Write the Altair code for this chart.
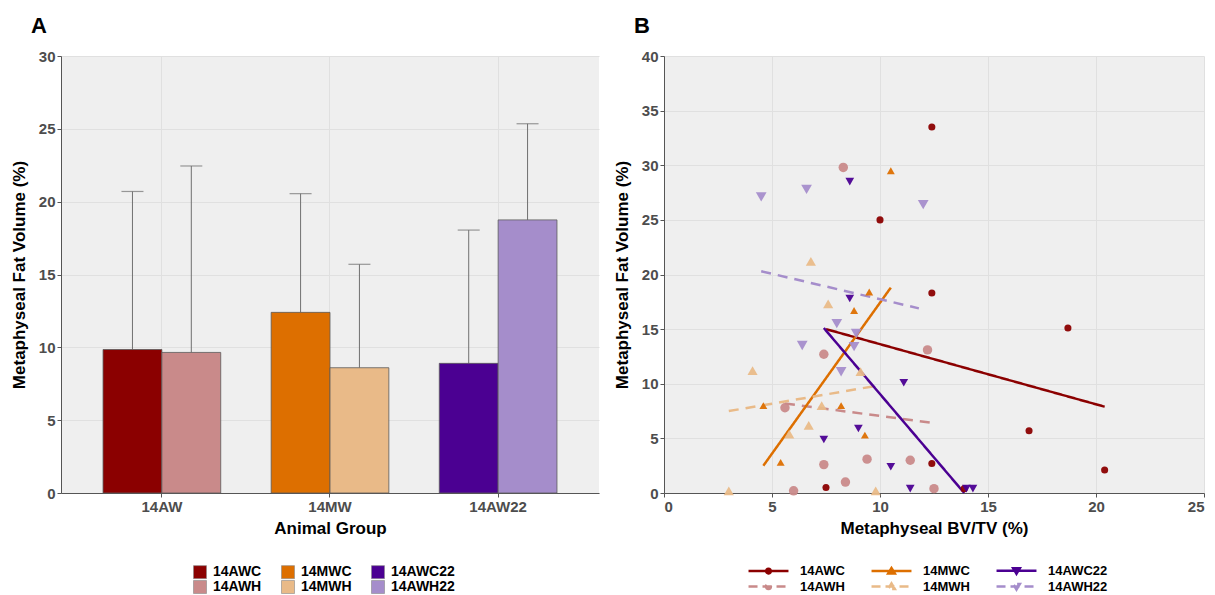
import altair as alt
import pandas as pd

# ---------------- Panel A data ----------------
group_a = ["14AW", "14AW", "14MW", "14MW", "14AW22", "14AW22"]
series_a = ["14AWC", "14AWH", "14MWC", "14MWH", "14AWC22", "14AWH22"]
cond_a = ["C", "H", "C", "H", "C", "H"]
mean_a = [9.85, 9.65, 12.4, 8.6, 8.9, 18.75]
upper_a = [20.7, 22.45, 20.55, 15.7, 18.05, 25.35]
group_order = ["14AW", "14MW", "14AW22"]

legend_order = ["14AWC", "14MWC", "14AWC22", "14AWH", "14MWH", "14AWH22"]
color_range = ["#8B0000", "#DD6F00", "#4B0092", "#C98A8A", "#E9BA88", "#A58DCB"]

# ---------------- Panel B data ----------------
awc_x = [12.4, 10.0, 12.4, 18.7, 16.9, 20.4, 12.4, 7.5, 13.9]
awc_y = [33.5, 25.0, 18.3, 15.1, 5.7, 2.1, 2.7, 0.5, 0.4]
awh_x = [8.3, 7.4, 12.2, 5.6, 7.4, 9.4, 11.4, 8.4, 6.0, 12.5]
awh_y = [29.8, 12.7, 13.1, 7.8, 2.6, 3.1, 3.0, 1.0, 0.2, 0.4]
mwc_x = [10.5, 9.5, 8.8, 4.6, 8.2, 9.3, 5.4]
mwc_y = [29.5, 18.4, 16.7, 8.0, 8.0, 5.3, 2.8]
mwh_x = [6.8, 7.6, 4.1, 9.1, 7.3, 6.7, 5.8, 3.0, 9.8]
mwh_y = [21.2, 17.3, 11.2, 11.1, 8.0, 6.2, 5.4, 0.2, 0.2]
awc22_x = [8.6, 8.6, 11.1, 7.4, 9.0, 10.5, 11.4, 14.0, 14.3]
awc22_y = [28.5, 17.8, 10.1, 4.9, 5.9, 2.4, 0.4, 0.4, 0.4]
awh22_x = [4.5, 6.6, 12.0, 8.0, 6.4, 8.8, 8.2, 8.9]
awh22_y = [27.1, 27.8, 26.4, 15.5, 13.5, 13.4, 11.1, 14.6]

# fitted lines (end points)
fit_awc_x, fit_awc_y = [7.5, 20.4], [15.0, 7.9]
fit_awh_x, fit_awh_y = [5.6, 12.5], [8.2, 6.4]
fit_mwc_x, fit_mwc_y = [4.6, 10.5], [2.5, 18.8]
fit_mwh_x, fit_mwh_y = [3.0, 9.8], [7.5, 9.8]
fit_awc22_x, fit_awc22_y = [7.4, 13.9], [15.1, 0.0]
fit_awh22_x, fit_awh22_y = [4.5, 11.8], [20.3, 16.9]

FONT = "Liberation Sans"
AX = "#555555"
LAB = "#4D4D4D"
GRID = "#E0E0E0"

# ---------------- build tables ----------------
df_a = pd.DataFrame({"group": group_a, "series": series_a, "cond": cond_a,
                     "mean": mean_a, "upper": upper_a})

pts = []
for name, xs, ys in [("14AWC", awc_x, awc_y), ("14AWH", awh_x, awh_y),
                     ("14MWC", mwc_x, mwc_y), ("14MWH", mwh_x, mwh_y),
                     ("14AWC22", awc22_x, awc22_y), ("14AWH22", awh22_x, awh22_y)]:
    for xv, yv in zip(xs, ys):
        pts.append({"series": name, "x": xv, "y": yv})
df_pts = pd.DataFrame(pts)

lines = []
for name, xs, ys in [("14AWC", fit_awc_x, fit_awc_y), ("14AWH", fit_awh_x, fit_awh_y),
                     ("14MWC", fit_mwc_x, fit_mwc_y), ("14MWH", fit_mwh_x, fit_mwh_y),
                     ("14AWC22", fit_awc22_x, fit_awc22_y), ("14AWH22", fit_awh22_x, fit_awh22_y)]:
    for xv, yv in zip(xs, ys):
        lines.append({"series": name, "x": xv, "y": yv})
df_lines = pd.DataFrame(lines)

df_leg = pd.DataFrame({"series": legend_order})

# ---------------- Panel A ----------------
y_axis_common = dict(domainColor=AX, tickColor=AX, tickSize=4, labelPadding=2,
                     labelFontSize=15, labelFontWeight="bold", labelColor=LAB,
                     titleFontSize=17, titleFontWeight="bold", titleColor="black",
                     gridColor=GRID, titlePadding=10)

xA = alt.X("group:N", sort=group_order,
           scale=alt.Scale(domain=group_order, paddingInner=0.3, paddingOuter=0.25),
           axis=alt.Axis(title="Animal Group", labelAngle=0, bandPosition=0.5, grid=True,
                         domainColor=AX, tickColor=AX, tickSize=4, labelPadding=2,
                         labelFontSize=15, labelFontWeight="bold", labelColor=LAB,
                         titleFontSize=17, titleFontWeight="bold", titleColor="black",
                         gridColor=GRID, titlePadding=6))
xoffA = alt.XOffset("cond:N", scale=alt.Scale(domain=["C", "H"], paddingInner=0, paddingOuter=0))
yscaleA = alt.Scale(domain=[0, 30], nice=False)
yaxisA = alt.Axis(title="Metaphyseal Fat Volume (%)", values=[0, 5, 10, 15, 20, 25, 30], **y_axis_common)

baseA = alt.Chart(df_a)
rulesA = baseA.mark_rule(color="#707070", strokeWidth=1).encode(
    x=xA, xOffset=xoffA,
    y=alt.Y("mean:Q", scale=yscaleA, axis=yaxisA), y2="upper:Q")
capsA = baseA.mark_tick(color="#707070", size=22, thickness=1.2, orient="horizontal").encode(
    x=xA, xOffset=xoffA,
    y=alt.Y("upper:Q", scale=yscaleA, axis=yaxisA))
barsA = baseA.mark_bar(stroke="#5a5a5a", strokeWidth=0.8).encode(
    x=xA, xOffset=xoffA,
    y=alt.Y("mean:Q", scale=yscaleA, axis=yaxisA),
    color=alt.Color("series:N", scale=alt.Scale(domain=legend_order, range=color_range),
                    legend=alt.Legend(title=None, orient="none", legendX=132, legendY=509,
                                      direction="horizontal", columns=3,
                                      symbolType="square", symbolSize=169,
                                      symbolStrokeWidth=0.6, symbolStrokeColor="#888888",
                                      labelFontSize=14, labelFontWeight="bold",
                                      labelColor="black", labelFont=FONT,
                                      labelOffset=6, columnPadding=18, rowPadding=-2)))

chartA = alt.layer(rulesA, capsA, barsA).properties(
    width=538, height=437,
    title=alt.TitleParams("A", anchor="start", frame="group", dx=-30, fontSize=22,
                          fontWeight="bold", color="black", offset=11, font=FONT))

# ---------------- Panel B ----------------
xscaleB = alt.Scale(domain=[0, 25], nice=False)
yscaleB = alt.Scale(domain=[0, 40], nice=False)
xaxisB = alt.Axis(title="Metaphyseal BV/TV (%)", values=[0, 5, 10, 15, 20, 25],
                  domainColor=AX, tickColor=AX, tickSize=4, labelPadding=2,
                  labelFontSize=15, labelFontWeight="bold", labelColor=LAB,
                  titleFontSize=17, titleFontWeight="bold", titleColor="black",
                  gridColor=GRID, titlePadding=6)
yaxisB = alt.Axis(title="Metaphyseal Fat Volume (%)", values=[0, 5, 10, 15, 20, 25, 30, 35, 40],
                  **y_axis_common)

dash_range = [[1, 0], [1, 0], [1, 0], [10, 7], [10, 7], [10, 7]]
shape_range = ["circle", "triangle-up", "triangle-down", "circle", "triangle-up", "triangle-down"]
size_range = [50, 115, 115, 50, 115, 115]

lineB = alt.Chart(df_lines).mark_line(strokeWidth=2.5).encode(
    x=alt.X("x:Q", scale=xscaleB, axis=xaxisB),
    y=alt.Y("y:Q", scale=yscaleB, axis=yaxisB),
    color=alt.Color("series:N", scale=alt.Scale(domain=legend_order, range=color_range), legend=None),
    strokeDash=alt.StrokeDash("series:N", scale=alt.Scale(domain=legend_order, range=dash_range), legend=None),
    detail="series:N")

pointB = alt.Chart(df_pts).mark_point(filled=True, opacity=0.95).encode(
    x=alt.X("x:Q", scale=xscaleB, axis=xaxisB),
    y=alt.Y("y:Q", scale=yscaleB, axis=yaxisB),
    color=alt.Color("series:N", scale=alt.Scale(domain=legend_order, range=color_range), legend=None),
    shape=alt.Shape("series:N", scale=alt.Scale(domain=legend_order, range=shape_range), legend=None),
    size=alt.Size("series:O", scale=alt.Scale(domain=legend_order, range=size_range), legend=None))

LINE = "M-3.33,0H3.33"
CIRC = "M0.4,0A0.4,0.4,0,1,1,-0.4,0A0.4,0.4,0,1,1,0.4,0"
TUP = "M0,-0.5L0.55,0.4L-0.55,0.4Z"
TDN = "M0,0.5L0.55,-0.4L-0.55,-0.4Z"
leg_shapes = [LINE + CIRC, LINE + TUP, LINE + TDN, LINE + CIRC, LINE + TUP, LINE + TDN]
leg_dash = [[1, 0], [1, 0], [1, 0], [9, 5], [9, 5], [9, 5]]

legB = alt.Legend(title=None, orient="none", legendX=97, legendY=507, direction="horizontal",
                  columns=3, symbolSize=144, symbolStrokeWidth=2.5,
                  labelFontSize=13, labelFontWeight="bold", labelColor="black", labelFont=FONT,
                  labelOffset=24, columnPadding=21, rowPadding=-3)

legendLayerB = alt.Chart(df_leg).transform_filter("false").mark_point(
    filled=False, opacity=1, strokeWidth=2.5).encode(
    x=alt.X("x:Q", scale=xscaleB, axis=xaxisB),
    y=alt.Y("y:Q", scale=yscaleB, axis=yaxisB),
    color=alt.Color("series:N", scale=alt.Scale(domain=legend_order, range=color_range), legend=legB),
    shape=alt.Shape("series:N", scale=alt.Scale(domain=legend_order, range=leg_shapes), legend=legB),
    strokeDash=alt.StrokeDash("series:N", scale=alt.Scale(domain=legend_order, range=leg_dash), legend=legB))

chartB = alt.layer(lineB, pointB, legendLayerB).resolve_scale(
    color="independent", shape="independent", strokeDash="independent", size="independent"
).properties(
    width=540, height=437,
    title=alt.TitleParams("B", anchor="start", frame="group", dx=-30, fontSize=22,
                          fontWeight="bold", color="black", offset=11, font=FONT))

chart = alt.hconcat(chartA, chartB, spacing=14).properties(
    padding={"left": 2, "top": 7, "right": 0, "bottom": 0}
).configure(font=FONT).configure_view(fill="#EFEFEF", stroke=None)

chart.save("out.html", embed_options={"renderer": "svg", "actions": False})
